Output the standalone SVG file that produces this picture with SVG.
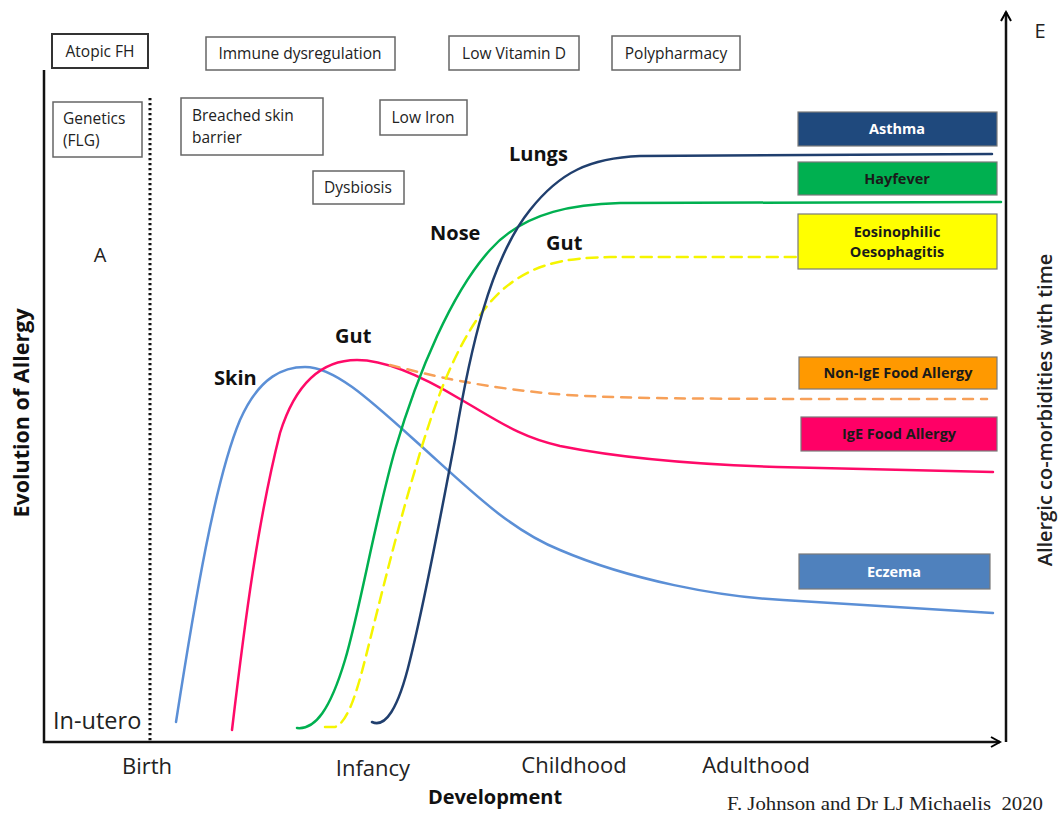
<svg xmlns="http://www.w3.org/2000/svg" width="1058" height="813" viewBox="0 0 1058 813">
<defs>
<style>
.t{font-family:"Open Sans","Liberation Sans",sans-serif;fill:#222}
.fbox{fill:#fff;stroke:#666;stroke-width:1.5}
.ft{font-size:15.5px}
.lbl{font-size:20px;font-weight:bold;fill:#111}
.ax{font-size:22px;fill:#222}
.cb{stroke:#7a7a7a;stroke-width:1.2}
.ct{font-size:14.5px;font-weight:bold;text-anchor:middle;fill:#1a1a1a}
.cv{fill:none;stroke-width:2.5;stroke-linecap:round}
</style>
<marker id="arr" viewBox="0 0 12 12" refX="10" refY="6" markerWidth="12" markerHeight="12" markerUnits="userSpaceOnUse" orient="auto">
<path d="M1,1 L10,6 L1,11" fill="none" stroke="#000" stroke-width="2"/>
</marker>
</defs>
<rect width="1058" height="813" fill="#fff"/>

<g id="axes" fill="none" stroke="#111">
<path d="M44,70 L44,742 L1000,742" stroke-width="2.5" marker-end="url(#arr)"/>
<path d="M1006,742 L1006,12" stroke-width="2.5" marker-end="url(#arr)"/>
<line x1="150" y1="98" x2="150" y2="742" stroke-width="3" stroke-dasharray="2.2,2.8"/>
</g>

<g id="factor-atopic-fh"><rect x="52" y="34" width="96" height="34" fill="#fff" stroke="#333" stroke-width="2"/><text class="t ft" x="100" y="57" text-anchor="middle">Atopic FH</text></g>
<g id="factor-immune"><rect class="fbox" x="206" y="37" width="189" height="33"/><text class="t ft" x="300" y="59" text-anchor="middle">Immune dysregulation</text></g>
<g id="factor-vitd"><rect class="fbox" x="449" y="36" width="130" height="34"/><text class="t ft" x="514" y="59" text-anchor="middle">Low Vitamin D</text></g>
<g id="factor-poly"><rect class="fbox" x="612" y="36" width="128" height="34"/><text class="t ft" x="676" y="59" text-anchor="middle">Polypharmacy</text></g>
<g id="factor-genetics"><rect class="fbox" x="53" y="102" width="89" height="55"/><text class="t ft" x="63" y="124">Genetics</text><text class="t ft" x="63" y="146">(FLG)</text></g>
<g id="factor-skin"><rect class="fbox" x="181" y="98" width="142" height="57"/><text class="t ft" x="192" y="121">Breached skin</text><text class="t ft" x="192" y="143">barrier</text></g>
<g id="factor-iron"><rect class="fbox" x="380" y="100" width="87" height="35"/><text class="t ft" x="423" y="123" text-anchor="middle">Low Iron</text></g>
<g id="factor-dysbiosis"><rect class="fbox" x="313" y="171" width="91" height="33"/><text class="t ft" x="358" y="193" text-anchor="middle">Dysbiosis</text></g>

<text class="t" x="100" y="262" font-size="20" text-anchor="middle">A</text>

<g id="connectors">
<path id="eczema-curve" class="cv" stroke="#5B8FD6" d="M176,722 C195,600 215,480 240,420 C260,375 285,367 305,367 C335,367 370,400 420,445 C470,490 510,530 560,550 C630,580 720,597 783,600 L993,613"/>
<path id="ige-curve" class="cv" stroke="#FF0A68" d="M232,730 C245,620 258,520 280,433 C295,385 320,360 357,360 C385,360 420,375 460,399 C500,422 520,437 560,446 C610,456 680,464 777,467 L993,472"/>
<path id="nonige-curve" class="cv" stroke="#F7A058" stroke-dasharray="10,8" stroke-linecap="butt" d="M390,365 C430,375 480,388 567,395 C640,399 700,399 987,399"/>
<path id="nose-curve" class="cv" stroke="#00B050" d="M297,728 C315,730 330,710 345,660 C360,610 375,520 395,450 C418,372 452,292 490,250 C525,210 580,204 620,203 L1001,202"/>
<path id="gut-curve" class="cv" stroke="#F5F500" stroke-width="3.2" stroke-dasharray="11,7" stroke-linecap="butt" d="M325,727 L335,727 C350,722 360,680 370,640 C385,580 400,520 415,470 C435,400 460,330 500,292 C530,265 560,258 610,257 L797,257"/>
<path id="lungs-curve" class="cv" stroke="#203F6E" d="M372,722 C385,728 398,710 410,660 C425,600 440,520 455,440 C470,350 490,260 530,210 C560,172 590,158 640,156 L992,154"/>
</g>

<text class="t lbl" x="214" y="385">Skin</text>
<text class="t lbl" x="335" y="343">Gut</text>
<text class="t lbl" x="430" y="240">Nose</text>
<text class="t lbl" x="509" y="161">Lungs</text>
<text class="t lbl" x="546" y="250">Gut</text>

<g id="asthma"><rect class="cb" x="798" y="112" width="199" height="34" fill="#1F497D"/><text class="t ct" x="897" y="134" style="fill:#fff">Asthma</text></g>
<g id="hayfever"><rect class="cb" x="798" y="162" width="199" height="33" fill="#00B050"/><text class="t ct" x="897" y="184">Hayfever</text></g>
<g id="eoe"><rect class="cb" x="798" y="214" width="199" height="55" fill="#FFFF00"/><text class="t ct" x="897" y="237">Eosinophilic</text><text class="t ct" x="897" y="257">Oesophagitis</text></g>
<g id="nonige"><rect class="cb" x="799" y="357" width="198" height="32" fill="#FF9900"/><text class="t ct" x="898" y="378">Non-IgE Food Allergy</text></g>
<g id="ige"><rect class="cb" x="801" y="417" width="196" height="34" fill="#FF0066"/><text class="t ct" x="899" y="439">IgE Food Allergy</text></g>
<g id="eczema"><rect class="cb" x="799" y="554" width="191" height="35" fill="#4F81BD"/><text class="t ct" x="894" y="577" style="fill:#fff">Eczema</text></g>

<text class="t" x="1040" y="38" font-size="20" text-anchor="middle">E</text>
<text class="t" font-size="20" font-weight="600" text-anchor="middle" transform="translate(1052,410) rotate(-90)">Allergic co-morbidities with time</text>
<text class="t" font-size="21.5" font-weight="bold" text-anchor="middle" transform="translate(29,413) rotate(-90)" style="fill:#111">Evolution of Allergy</text>

<text class="t" x="53" y="729" font-size="23.5">In-utero</text>
<text class="t ax" x="147" y="774" text-anchor="middle">Birth</text>
<text class="t ax" x="373" y="776" text-anchor="middle">Infancy</text>
<text class="t ax" x="574" y="773" text-anchor="middle">Childhood</text>
<text class="t ax" x="756" y="773" text-anchor="middle">Adulthood</text>
<text class="t" x="495" y="804" font-size="20" font-weight="bold" text-anchor="middle" style="fill:#111">Development</text>
<text x="727" y="810" font-family="'Liberation Serif',serif" font-size="19" fill="#222" xml:space="preserve" textLength="316" lengthAdjust="spacingAndGlyphs">F. Johnson and Dr LJ Michaelis  2020</text>
</svg>
